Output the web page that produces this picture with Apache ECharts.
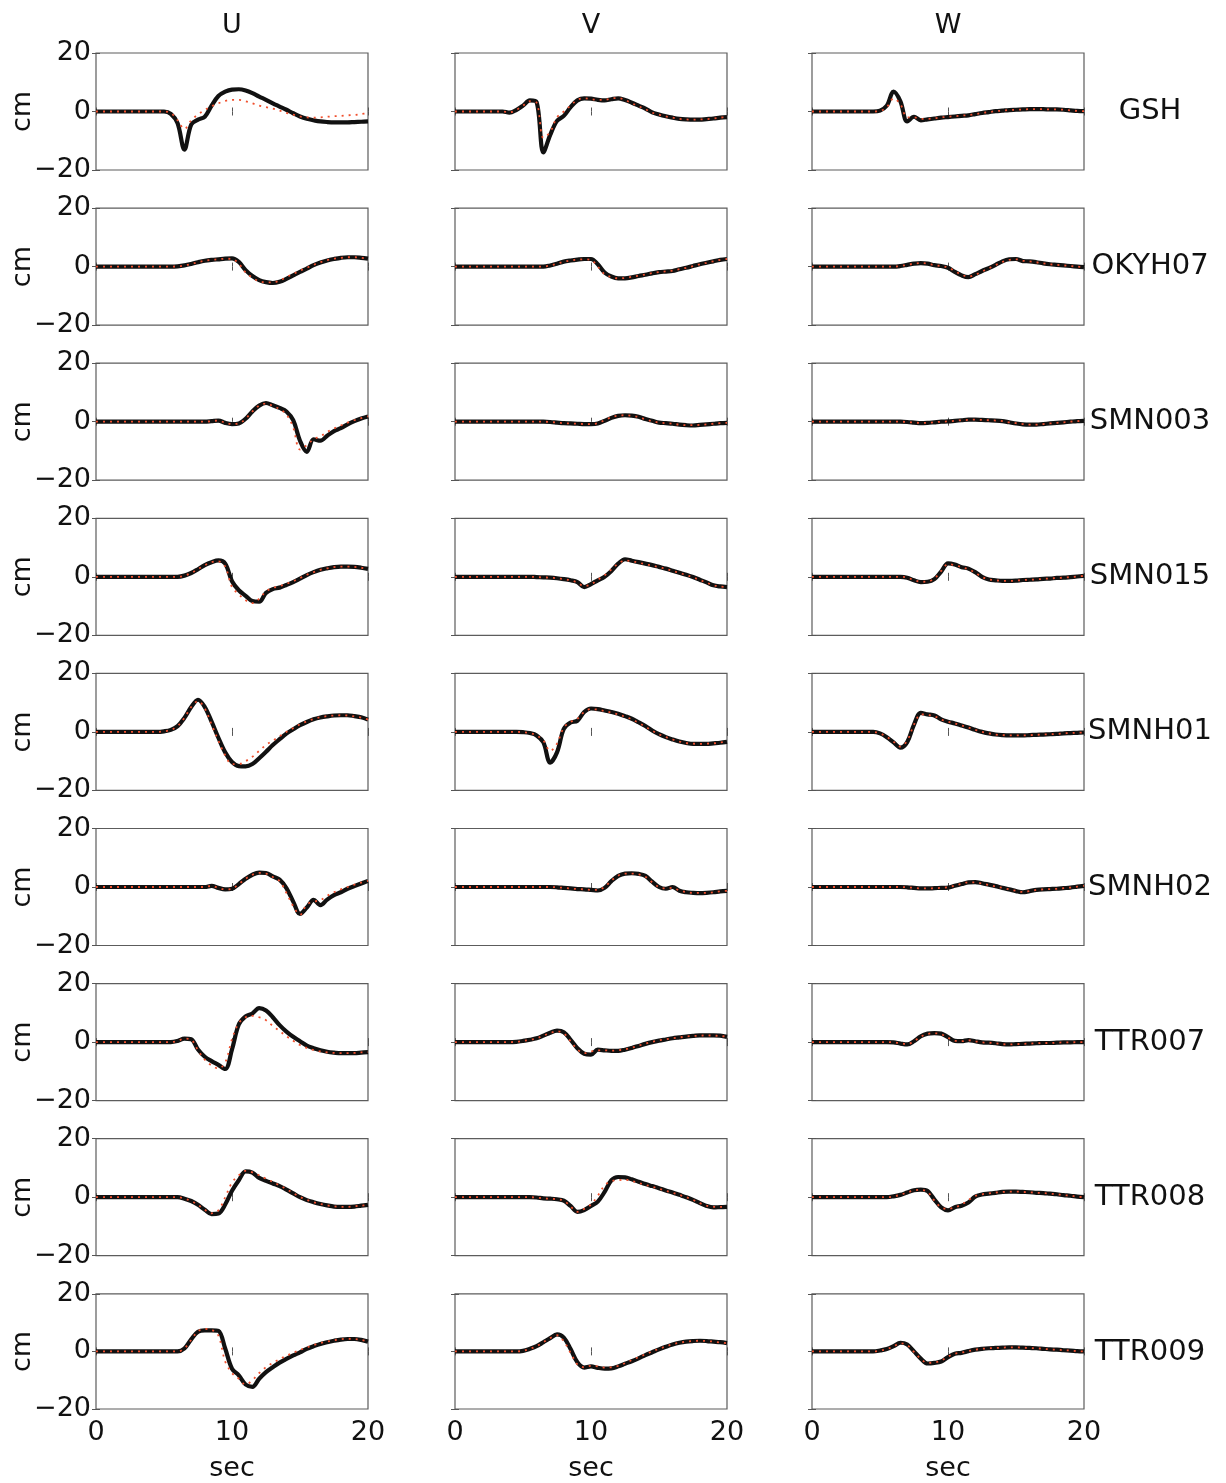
<!DOCTYPE html>
<html>
<head>
<meta charset="utf-8">
<title>U V W waveforms</title>
<script src="https://cdn.jsdelivr.net/npm/echarts@6/dist/echarts.min.js"></script>
<style>
  html, body { margin: 0; padding: 0; background: #fff; }
  #chart { width: 1226px; height: 1483px; }
</style>
</head>
<body>
<div id="chart"></div>
<script>
// time axis, seconds
const secs = [0, 0.5, 1, 1.5, 2, 2.5, 3, 3.5, 4, 4.5, 5, 5.5, 6, 6.5, 7, 7.5, 8, 8.5, 9, 9.5,
  10, 10.5, 11, 11.5, 12, 12.5, 13, 13.5, 14, 14.5, 15, 15.5, 16, 16.5, 17, 17.5, 18, 18.5, 19, 19.5, 20];
const components = ["U", "V", "W"];
const stations = ["GSH", "OKYH07", "SMN003", "SMN015", "SMNH01", "SMNH02", "TTR007", "TTR008", "TTR009"];
const xTicks = [0, 10, 20];
const yTicks = [-20, 0, 20];

// observed (black) and synthetic (red dotted) displacement, cm
const gshU = [0,0,0,0,0,0,0,0,0,0,0, -0.8,-4,-13,-4.5,-2.8,-1.8,2.0,5.3,6.8,7.5, 7.6,7.2,6.3,5.1,4.0,2.8,1.7,0.6,-0.6,-1.7, -2.5,-3.0,-3.4,-3.6,-3.7,-3.7,-3.7,-3.6,-3.5,-3.4];
const gshUsyn = [0,0,0,0,0,0,0,0,0,0,0, -0.5,-3,-6,-3,-1,0.5,1.8,2.8,3.6,4.0, 4.0,3.5,2.8,2.0,1.5,1.0,0.3,-0.5,-1.1,-1.7, -2.0,-2.1,-2.0,-1.8,-1.6,-1.5,-1.3,-1.2,-0.9,-0.5];
const gshV = [0,0,0,0,0,0,0,0, -0.4,0.5,2.0,3.8,3.2,-14,-8,-3.2,-1.5,1.5, 3.8,4.5,4.4,4.0,3.8,4.2,4.5,3.9,3.0,2.0, 1.0,-0.3,-1.0,-1.6,-2.1,-2.5,-2.7,-2.8,-2.8,-2.6, -2.4,-2.1,-1.9];
const gshVsyn = [0,0,0,0,0,0,0,0, -0.3,0.5,2.0,3.5,3.0,-9,-7,-2,0,2, 4.0,4.5,4.2,4.0,4.0,4.5,4.6,4.0,2.8,1.8, 0.8,-0.4,-1.1,-1.7,-2.1,-2.5,-2.7,-2.8,-2.7,-2.6, -2.4,-2.1,-1.8];
const gshW = [0,0,0,0,0,0,0,0,0,0, 0.3,2.0,6.8,3.5,-3.4,-1.8,-3.0,-2.7,-2.4,-2.1, -1.9,-1.7,-1.5,-1.3,-0.9,-0.5,-0.2,0.1,0.3,0.5, 0.6,0.7,0.8,0.8,0.8,0.7,0.7,0.6,0.4,0.2, 0.1];
const gshWsyn = [0,0,0,0,0,0,0,0,0,0, 0.2,1.5,4.5,2.5,-2.0,-2.0,-2.5,-2.5,-2.3,-2.0, -1.8,-1.6,-1.4,-1.2,-0.9,-0.5,-0.2,0.1,0.3,0.5, 0.6,0.7,0.8,0.8,0.8,0.7,0.7,0.6,0.4,0.2, 0.1];

const okyU = [0,0,0,0,0,0,0,0,0,0,0,0, 0.1,0.4,0.9,1.5,2.0,2.3,2.5,2.7, 2.8,1.6,-1.2,-3.2,-4.6,-5.3,-5.6,-5.2,-4.2,-3.0, -1.8,-0.7,0.5,1.4,2.1,2.6,3.0,3.2,3.2,3.0, 2.7];
const okyUsyn = [0,0,0,0,0,0,0,0,0,0,0,0, 0.1,0.4,0.9,1.5,2.0,2.3,2.5,2.7, 2.6,1.0,-2.0,-3.8,-5.0,-5.4,-5.4,-4.8,-3.6,-2.5, -1.4,-0.4,0.6,1.5,2.2,2.7,3.0,3.2,3.2,3.0, 2.7];
const okyV = [0,0,0,0,0,0,0,0,0,0,0,0,0,0, 0.4,1.0,1.7,2.1,2.4,2.6, 2.6,0.8,-2.0,-3.4,-4.0,-4.0,-3.7,-3.2,-2.8,-2.3, -1.9,-1.7,-1.5,-0.9,-0.4,0.2,0.8,1.3,1.8,2.3, 2.6];
const okyVsyn = [0,0,0,0,0,0,0,0,0,0,0,0,0,0, 0.4,1.0,1.7,2.1,2.4,2.5, 2.3,0.0,-2.6,-3.6,-4.0,-3.9,-3.5,-3.1,-2.7,-2.2, -1.9,-1.6,-1.4,-0.9,-0.4,0.2,0.8,1.3,1.8,2.3, 2.6];
const okyW = [0,0,0,0,0,0,0,0,0,0,0,0,0, 0.2,0.6,1.0,1.2,1.0,0.5,0.2, -0.4,-1.8,-3.0,-3.6,-2.6,-1.5,-0.5,0.6,1.8,2.5, 2.6,1.9,1.8,1.5,1.1,0.8,0.6,0.4,0.2,0.0, -0.2];
const okyWsyn = [0,0,0,0,0,0,0,0,0,0,0,0,0, 0.2,0.6,1.0,1.2,1.0,0.5,0.2, -0.3,-1.5,-2.8,-3.4,-2.8,-1.7,-0.6,0.5,1.6,2.3, 2.5,2.0,1.8,1.5,1.1,0.8,0.6,0.4,0.2,0.0, -0.2];

const s003U = [0,0,0,0,0,0,0,0,0,0,0,0,0,0,0,0,0, 0.2,0.4,-0.4, -0.8,-0.6,1.0,3.5,5.5,6.4,5.6,4.7,3.5,0.5, -6.5,-10.3,-6.0,-6.5,-4.8,-3.2,-2.2,-0.9,0.2,1.1, 1.8];
const s003Usyn = [0,0,0,0,0,0,0,0,0,0,0,0,0,0,0,0,0, 0.2,0.4,-0.4, -0.8,-0.6,1.0,3.5,5.5,6.2,5.4,4.3,2.5,-2.0, -9.5,-8.0,-6.0,-5.0,-3.5,-2.3,-1.3,-0.3,0.5,1.2, 1.8];
const s003V = [0,0,0,0,0,0,0,0,0,0,0,0,0,0, -0.1,-0.3,-0.5,-0.6,-0.7,-0.8, -0.8,-0.6,0.3,1.3,2.0,2.2,2.1,1.7,0.9,0.3, -0.3,-0.5,-0.7,-1.0,-1.2,-1.3,-1.1,-0.9,-0.7,-0.5, -0.4];
const s003Vsyn = [0,0,0,0,0,0,0,0,0,0,0,0,0,0, -0.1,-0.3,-0.5,-0.6,-0.7,-0.8, -0.8,-0.5,0.5,1.5,2.1,2.2,2.0,1.6,0.8,0.2, -0.3,-0.5,-0.7,-1.0,-1.2,-1.2,-1.1,-0.9,-0.7,-0.5, -0.4];
const s003W = [0,0,0,0,0,0,0,0,0,0,0,0,0,0, -0.1,-0.3,-0.5,-0.4,-0.2,0, 0.1,0.3,0.5,0.7,0.7,0.6,0.5,0.4,0.2,-0.2, -0.6,-0.9,-1.0,-1.0,-0.8,-0.6,-0.4,-0.2,0.0,0.2, 0.3];
const s003Wsyn = [0,0,0,0,0,0,0,0,0,0,0,0,0,0, -0.1,-0.3,-0.4,-0.4,-0.2,0, 0.1,0.3,0.5,0.6,0.7,0.6,0.5,0.4,0.2,-0.2, -0.5,-0.8,-1.0,-1.0,-0.8,-0.6,-0.4,-0.2,0.0,0.2, 0.3];

const s015U = [0,0,0,0,0,0,0,0,0,0,0,0,0, 0.4,1.3,2.6,4.0,5.0,5.6,4.5, -1.5,-4.6,-6.5,-8.3,-8.5,-5.5,-4.2,-3.7,-2.8,-1.8, -0.6,0.6,1.6,2.4,2.9,3.3,3.5,3.5,3.4,3.1, 2.7];
const s015Usyn = [0,0,0,0,0,0,0,0,0,0,0,0,0, 0.4,1.3,2.6,4.0,5.0,5.3,3.5, -3.5,-6.0,-8.0,-9.0,-7.5,-5.0,-3.8,-3.2,-2.4,-1.5, -0.4,0.7,1.6,2.4,2.9,3.3,3.5,3.5,3.4,3.1, 2.7];
const s015V = [0,0,0,0,0,0,0,0,0,0,0,0, -0.1,-0.2,-0.3,-0.5,-0.8,-1.2,-1.8,-3.5, -2.5,-1.2,0.0,2.0,4.5,6.0,5.5,5.0,4.5,4.0, 3.4,2.8,2.1,1.4,0.7,-0.1,-1.0,-1.9,-2.9,-3.3, -3.5];
const s015Vsyn = [0,0,0,0,0,0,0,0,0,0,0,0, -0.1,-0.2,-0.3,-0.5,-0.8,-1.2,-2.0,-3.2, -2.6,-1.0,0.5,2.5,4.5,5.6,5.3,4.8,4.3,3.8, 3.3,2.7,2.0,1.3,0.6,-0.2,-1.1,-2.0,-2.9,-3.3, -3.5];
const s015W = [0,0,0,0,0,0,0,0,0,0,0,0,0,0, -0.3,-1.2,-1.8,-1.7,-0.8,1.8, 4.6,4.2,3.3,2.8,1.6,0.0,-0.9,-1.2,-1.4,-1.4, -1.3,-1.1,-1.0,-0.9,-0.7,-0.6,-0.4,-0.3,-0.1,0.1, 0.3];
const s015Wsyn = [0,0,0,0,0,0,0,0,0,0,0,0,0,0, -0.3,-1.1,-1.7,-1.6,-0.6,2.0, 4.3,4.0,3.3,2.6,1.4,-0.1,-0.9,-1.2,-1.4,-1.4, -1.3,-1.1,-1.0,-0.9,-0.7,-0.6,-0.4,-0.3,-0.1,0.1, 0.3];

const h01U = [0,0,0,0,0,0,0,0,0,0, 0.2,0.7,2.0,4.8,8.5,11.0,8.5,3.5,-2.0,-7.0, -10.3,-11.7,-11.8,-11.0,-9.0,-6.8,-4.5,-2.5,-0.6,0.9, 2.3,3.4,4.3,4.9,5.3,5.6,5.7,5.7,5.4,5.0, 4.2];
const h01Usyn = [0,0,0,0,0,0,0,0,0,0, 0.2,0.7,2.0,4.8,8.5,10.5,8.0,2.5,-3.0,-8.0, -11.0,-11.0,-10.0,-8.5,-6.5,-4.5,-3.0,-1.5,0.0,1.3, 2.6,3.6,4.4,5.0,5.4,5.6,5.7,5.6,5.3,4.9, 4.2];
const h01V = [0,0,0,0,0,0,0,0,0,0, -0.1,-0.4,-1.2,-3.6,-10.5,-7.0,1.0,3.2,3.8,6.8, 8.0,7.8,7.3,6.8,6.2,5.4,4.5,3.3,2.0,0.5, -0.8,-1.8,-2.6,-3.3,-3.8,-4.1,-4.1,-4.1,-3.9,-3.7, -3.4];
const h01Vsyn = [0,0,0,0,0,0,0,0,0,0, -0.1,-0.4,-1.2,-3.0,-6.5,-4.0,1.5,3.4,4.5,6.8, 7.8,7.6,7.1,6.6,6.0,5.2,4.3,3.1,1.8,0.4, -0.8,-1.8,-2.6,-3.3,-3.8,-4.0,-4.1,-4.0,-3.9,-3.6, -3.3];
const h01W = [0,0,0,0,0,0,0,0,0,0, -0.5,-1.8,-3.6,-5.4,-3.5,2.5,6.5,6.0,5.6,4.3, 3.5,2.9,2.2,1.5,0.7,0.0,-0.5,-0.9,-1.1,-1.2, -1.2,-1.2,-1.1,-1.0,-0.9,-0.8,-0.7,-0.5,-0.4,-0.3, -0.2];
const h01Wsyn = [0,0,0,0,0,0,0,0,0,0, -0.5,-1.7,-3.4,-5.0,-3.0,2.5,6.0,5.8,5.4,4.2, 3.5,2.9,2.2,1.5,0.7,0.0,-0.5,-0.9,-1.1,-1.2, -1.2,-1.2,-1.1,-1.0,-0.9,-0.8,-0.7,-0.5,-0.4,-0.3, -0.2];

const h02U = [0,0,0,0,0,0,0,0,0,0,0,0,0,0,0,0,0, 0.4,-0.3,-0.8, -0.6,1.0,2.8,4.2,4.9,4.8,3.6,2.5,-0.4,-5.0, -9.2,-7.0,-4.4,-6.2,-4.3,-2.8,-1.8,-0.6,0.3,1.2, 2.1];
const h02Usyn = [0,0,0,0,0,0,0,0,0,0,0,0,0,0,0,0,0, 0.4,-0.3,-0.8, -0.6,1.0,2.8,4.2,4.8,4.6,3.4,2.0,-2.0,-6.5, -9.5,-6.0,-5.0,-4.5,-3.0,-1.8,-0.8,0.0,0.8,1.5, 2.1];
const h02V = [0,0,0,0,0,0,0,0,0,0,0,0,0,0,0, -0.1,-0.3,-0.5,-0.7,-0.8, -1.0,-1.2,-0.3,2.0,3.8,4.6,4.7,4.5,3.8,1.8, 0.0,-0.6,0.0,-1.3,-1.8,-2.0,-2.1,-2.0,-1.8,-1.5, -1.3];
const h02Vsyn = [0,0,0,0,0,0,0,0,0,0,0,0,0,0,0, -0.1,-0.3,-0.5,-0.7,-0.8, -1.0,-1.0,0.0,2.2,3.9,4.6,4.6,4.3,3.5,1.6, 0.0,-0.5,-0.3,-1.2,-1.7,-2.0,-2.0,-2.0,-1.8,-1.5, -1.3];
const h02W = [0,0,0,0,0,0,0,0,0,0,0,0,0,0, -0.1,-0.3,-0.5,-0.5,-0.4,-0.3, -0.2,0.4,1.0,1.6,1.7,1.3,0.8,0.3,-0.3,-0.8, -1.4,-1.8,-1.4,-1.0,-0.8,-0.7,-0.6,-0.4,-0.2,0.1, 0.4];
const h02Wsyn = [0,0,0,0,0,0,0,0,0,0,0,0,0,0, -0.1,-0.3,-0.5,-0.5,-0.4,-0.3, -0.1,0.5,1.1,1.6,1.6,1.2,0.7,0.2,-0.3,-0.8, -1.3,-1.7,-1.4,-1.0,-0.8,-0.7,-0.6,-0.4,-0.2,0.1, 0.4];

const t007U = [0,0,0,0,0,0,0,0,0,0,0,0, 0.4,1.2,1.0,-2.5,-5.0,-6.5,-7.8,-9.2, -2.5,6.0,8.8,9.8,11.6,10.8,8.5,5.8,3.6,1.8, 0.3,-1.2,-2.1,-2.8,-3.3,-3.6,-3.8,-3.8,-3.8,-3.6, -3.4];
const t007Usyn = [0,0,0,0,0,0,0,0,0,0,0,0, 0.4,1.2,0.8,-2.8,-6.0,-8.0,-9.0,-7.0, 1.0,6.5,8.5,9.0,8.5,7.5,5.5,3.8,2.0,0.5, -1.0,-2.0,-2.7,-3.2,-3.5,-3.7,-3.8,-3.8,-3.7,-3.5, -3.4];
const t007V = [0,0,0,0,0,0,0,0,0, 0.1,0.4,0.8,1.3,2.2,3.2,3.9,3.4,0.8,-2.1,-4.0, -4.3,-2.6,-2.8,-3.0,-3.0,-2.6,-2.0,-1.3,-0.6,0.0, 0.5,0.9,1.3,1.6,1.9,2.1,2.3,2.3,2.3,2.2, 1.8];
const t007Vsyn = [0,0,0,0,0,0,0,0,0, 0.1,0.4,0.8,1.3,2.2,3.1,3.7,3.0,0.3,-2.5,-3.8, -3.2,-2.8,-2.8,-2.9,-2.8,-2.5,-1.9,-1.2,-0.5,0.1, 0.6,1.0,1.3,1.6,1.9,2.1,2.2,2.3,2.2,2.1, 1.8];
const t007W = [0,0,0,0,0,0,0,0,0,0,0,0, -0.1,-0.5,-0.8,0.3,2.0,2.9,3.1,2.9, 1.7,0.4,0.3,0.7,0.3,-0.1,-0.2,-0.4,-0.7,-0.8, -0.7,-0.6,-0.5,-0.4,-0.3,-0.3,-0.2,-0.1,-0.1,0.0, 0.0];
const t007Wsyn = [0,0,0,0,0,0,0,0,0,0,0,0, -0.1,-0.4,-0.7,0.3,1.9,2.8,3.0,2.7, 1.5,0.5,0.3,0.6,0.3,-0.1,-0.2,-0.4,-0.7,-0.8, -0.7,-0.6,-0.5,-0.4,-0.3,-0.3,-0.2,-0.1,-0.1,0.0, 0.0];

const t008U = [0,0,0,0,0,0,0,0,0,0,0,0,0, -0.5,-1.3,-2.6,-4.3,-5.8,-5.6,-2.5, 2.2,5.8,8.8,8.4,6.6,5.6,4.7,3.8,2.6,1.3, 0.0,-1.0,-1.7,-2.3,-2.8,-3.2,-3.3,-3.3,-3.2,-2.9, -2.6];
const t008Usyn = [0,0,0,0,0,0,0,0,0,0,0,0,0, -0.5,-1.3,-2.6,-4.3,-5.5,-4.5,0.0, 5.0,7.5,9.0,8.5,7.5,6.3,5.2,4.0,2.8,1.4, 0.1,-0.9,-1.7,-2.3,-2.8,-3.1,-3.3,-3.3,-3.1,-2.9, -2.6];
const t008V = [0,0,0,0,0,0,0,0,0,0,0,0, -0.1,-0.4,-0.5,-0.7,-1.2,-3.0,-5.0,-4.4, -3.0,-1.5,1.8,5.8,6.9,6.8,6.1,5.3,4.5,3.8, 3.1,2.3,1.6,0.8,0.0,-0.9,-2.0,-3.0,-3.5,-3.4, -3.3];
const t008Vsyn = [0,0,0,0,0,0,0,0,0,0,0,0, -0.1,-0.4,-0.5,-0.7,-1.2,-3.2,-5.0,-4.0, -2.5,0.5,4.0,5.5,5.8,6.0,5.5,4.9,4.2,3.6, 2.9,2.2,1.5,0.8,0.0,-0.9,-2.0,-2.9,-3.3,-3.3, -3.2];
const t008W = [0,0,0,0,0,0,0,0,0,0,0,0, 0.3,0.8,1.6,2.4,2.6,2.1,-0.8,-3.5, -4.5,-3.4,-2.9,-1.8,0.2,0.9,1.2,1.5,1.8,1.9, 1.9,1.8,1.7,1.5,1.4,1.2,1.0,0.7,0.5,0.2, 0.0];
const t008Wsyn = [0,0,0,0,0,0,0,0,0,0,0,0, 0.3,0.8,1.6,2.3,2.5,1.8,-1.2,-3.5, -4.0,-3.5,-2.5,-1.0,0.4,1.0,1.3,1.6,1.8,1.9, 1.9,1.8,1.7,1.5,1.4,1.2,1.0,0.7,0.5,0.2, 0.0];

const t009U = [0,0,0,0,0,0,0,0,0,0,0,0,0, 1.0,4.2,6.8,7.3,7.3,7.1,1.0, -6.0,-8.3,-11.5,-12.3,-9.5,-7.2,-5.5,-3.9,-2.6,-1.4, -0.3,0.9,1.8,2.6,3.2,3.7,4.1,4.3,4.3,4.0, 3.4];
const t009Usyn = [0,0,0,0,0,0,0,0,0,0,0,0,0, 1.0,4.0,7.0,7.8,7.5,5.5,-3.5, -7.5,-9.5,-11.5,-10.0,-7.5,-5.5,-4.0,-2.7,-1.5,-0.5, 0.5,1.4,2.2,2.9,3.4,3.9,4.2,4.4,4.3,4.0, 3.4];
const t009V = [0,0,0,0,0,0,0,0,0,0, 0.2,0.9,1.8,3.2,4.6,5.9,4.8,0.8,-3.8,-5.6, -5.2,-5.7,-6.0,-5.9,-5.2,-4.3,-3.4,-2.4,-1.3,-0.3, 0.7,1.6,2.4,3.0,3.4,3.6,3.7,3.6,3.4,3.2, 2.9];
const t009Vsyn = [0,0,0,0,0,0,0,0,0,0, 0.2,0.9,1.8,3.2,4.6,5.6,3.5,-0.5,-4.5,-5.5, -5.0,-5.2,-5.6,-5.5,-5.0,-4.1,-3.0,-2.0,-1.0,0.0, 0.9,1.7,2.5,3.0,3.4,3.6,3.7,3.6,3.4,3.1, 2.8];
const t009W = [0,0,0,0,0,0,0,0,0,0, 0.3,0.8,1.8,3.0,2.4,0.0,-2.5,-4.2,-4.0,-3.5, -2.0,-0.8,-0.5,0.1,0.6,0.9,1.1,1.2,1.3,1.4, 1.4,1.3,1.2,1.1,0.9,0.7,0.6,0.4,0.3,0.1, 0.0];
const t009Wsyn = [0,0,0,0,0,0,0,0,0,0, 0.3,0.8,1.7,2.8,2.2,-0.2,-2.6,-4.0,-3.8,-3.2, -1.8,-0.8,-0.4,0.1,0.6,0.9,1.1,1.2,1.3,1.4, 1.4,1.3,1.2,1.1,0.9,0.7,0.6,0.4,0.3,0.1, 0.0];

const observed = [
  [gshU, gshV, gshW], [okyU, okyV, okyW], [s003U, s003V, s003W],
  [s015U, s015V, s015W], [h01U, h01V, h01W], [h02U, h02V, h02W],
  [t007U, t007V, t007W], [t008U, t008V, t008W], [t009U, t009V, t009W],
];
const synthetic = [
  [gshUsyn, gshVsyn, gshWsyn], [okyUsyn, okyVsyn, okyWsyn], [s003Usyn, s003Vsyn, s003Wsyn],
  [s015Usyn, s015Vsyn, s015Wsyn], [h01Usyn, h01Vsyn, h01Wsyn], [h02Usyn, h02Vsyn, h02Wsyn],
  [t007Usyn, t007Vsyn, t007Wsyn], [t008Usyn, t008Vsyn, t008Wsyn], [t009Usyn, t009Vsyn, t009Wsyn],
];

const FONT = "DejaVu Sans, Verdana, sans-serif";
const colLeft = [96, 455, 812];
const colW = 272;
const rowTop0 = 53;
const rowStep = 155.1;
const rowH = 117;
const tickStyle = { color: "#555", width: 1 };

const chart = echarts.init(document.getElementById("chart"));

const grids = [];
const xAxes = [];
const yAxes = [];
const series = [];
const graphics = [];

const fmtY = (v) => (v < 0 ? "\u2212" + Math.abs(v) : String(v));

stations.forEach((st, r) => {
  const top = rowTop0 + r * rowStep;
  components.forEach((comp, c) => {
    const g = grids.length;
    grids.push({
      left: colLeft[c], top: top, width: colW, height: rowH,
      show: true, borderColor: "#5c5c5c", borderWidth: 1.2, backgroundColor: "#fff",
    });
    const last = r === stations.length - 1;
    // bottom and top x axes (ticks on both sides, labels only on last row)
    ["bottom", "top"].forEach((pos) => {
      xAxes.push({
        gridIndex: g, type: "value", position: pos,
        min: xTicks[0], max: xTicks[xTicks.length - 1], interval: xTicks[1] - xTicks[0],
        axisLine: { show: false },
        axisTick: { show: true, inside: true, length: 4, lineStyle: tickStyle },
        axisLabel: {
          show: pos === "bottom" && last, fontSize: 27, fontFamily: FONT, color: "#111", margin: 10,
        },
        splitLine: { show: false },
        name: pos === "bottom" && last ? "sec" : "",
        nameLocation: "middle", nameGap: 46, nameMoveOverlap: false,
        nameTextStyle: { fontSize: 27, fontFamily: FONT, color: "#111" },
      });
    });
    ["left", "right"].forEach((pos) => {
      yAxes.push({
        gridIndex: g, type: "value", position: pos,
        min: yTicks[0], max: yTicks[yTicks.length - 1], interval: yTicks[1] - yTicks[0],
        axisLine: { show: false },
        axisTick: { show: true, inside: true, length: 4, lineStyle: tickStyle },
        axisLabel: {
          show: pos === "left" && c === 0, fontSize: 27, fontFamily: FONT, color: "#111",
          margin: 5, formatter: fmtY,
        },
        splitLine: { show: false },
        name: pos === "left" && c === 0 ? "cm" : "",
        nameLocation: "middle", nameGap: 60, nameRotate: 90, nameMoveOverlap: false,
        nameTextStyle: { fontSize: 27, fontFamily: FONT, color: "#111" },
      });
    });
    const xi = g * 2;
    const yi = g * 2;
    series.push({
      type: "line", xAxisIndex: xi, yAxisIndex: yi,
      data: secs.map((t, i) => [t, observed[r][c][i]]),
      showSymbol: false, smooth: 0.35, z: 2,
      lineStyle: { color: "#111", width: 4.2 },
    });
    series.push({
      type: "line", xAxisIndex: xi, yAxisIndex: yi,
      data: secs.map((t, i) => [t, synthetic[r][c][i]]),
      showSymbol: false, smooth: 0.35, z: 3,
      lineStyle: { color: "#f0502e", width: 1.8, type: [2, 5] },
    });
  });
  graphics.push({
    type: "text", x: 1150, y: top + rowH / 2,
    style: { text: st, fontSize: 29, fontFamily: FONT, fill: "#111", align: "center", verticalAlign: "middle" },
  });
});

components.forEach((comp, c) => {
  graphics.push({
    type: "text", x: colLeft[c] + colW / 2, y: 26,
    style: { text: comp, fontSize: 27, fontFamily: FONT, fill: "#111", align: "center", verticalAlign: "middle" },
  });
});

chart.setOption({
  animation: false,
  backgroundColor: "#fff",
  grid: grids,
  xAxis: xAxes,
  yAxis: yAxes,
  series: series,
  graphic: graphics,
});
window.addEventListener("resize", () => chart.resize());
</script>
</body>
</html>
